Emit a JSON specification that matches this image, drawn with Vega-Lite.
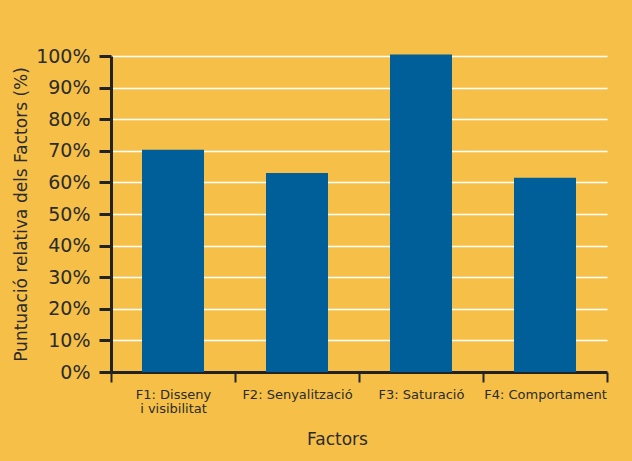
{
  "$schema": "https://vega.github.io/schema/vega-lite/v6.json",
  "width": 496,
  "height": 316,
  "autosize": "none",
  "padding": {"left": 111, "top": 56, "right": 25, "bottom": 89},
  "background": "#F6C048",
  "data": {
    "values": [
      {"factor": "F1: Disseny i visibilitat", "score": 70.3},
      {"factor": "F2: Senyalització", "score": 63.0},
      {"factor": "F3: Saturació", "score": 100.5},
      {"factor": "F4: Comportament", "score": 61.5}
    ]
  },
  "mark": {"type": "bar", "color": "#005F98", "width": {"band": 0.5}},
  "encoding": {
    "x": {
      "field": "factor",
      "type": "nominal",
      "sort": null,
      "scale": {"paddingInner": 0, "paddingOuter": 0},
      "axis": {
        "title": "Factors",
        "titleFontSize": 17,
        "titleFontWeight": "normal",
        "titleColor": "#2b2b2b",
        "titlePadding": 16,
        "titleX": 226,
        "labelAngle": 0,
        "labelFontSize": 13,
        "labelColor": "#2b2b2b",
        "labelPadding": 6,
        "labelExpr": "datum.value == 'F1: Disseny i visibilitat' ? ['F1: Disseny', 'i visibilitat'] : datum.value",
        "labelLineHeight": 14,
        "tickBand": "extent",
        "tickSize": 10,
        "tickWidth": 2,
        "tickColor": "#222222",
        "domainColor": "#222222",
        "domainWidth": 3
      }
    },
    "y": {
      "field": "score",
      "type": "quantitative",
      "scale": {"domain": [0, 100], "nice": false},
      "axis": {
        "title": "Puntuació relativa dels Factors (%)",
        "titleFontSize": 17,
        "titleFontWeight": "normal",
        "titleColor": "#2b2b2b",
        "titlePadding": 5,
        "values": [0, 10, 20, 30, 40, 50, 60, 70, 80, 90, 100],
        "labelExpr": "datum.value + '%'",
        "labelFontSize": 19,
        "labelColor": "#2b2b2b",
        "labelPadding": 9,
        "tickSize": 12,
        "tickWidth": 3,
        "tickColor": "#222222",
        "domainColor": "#222222",
        "domainWidth": 3,
        "grid": true,
        "gridColor": "#ffffff",
        "gridWidth": 1.5,
        "gridOpacity": 1
      }
    }
  },
  "config": {
    "font": "DejaVu Sans",
    "view": {"stroke": null}
  }
}
